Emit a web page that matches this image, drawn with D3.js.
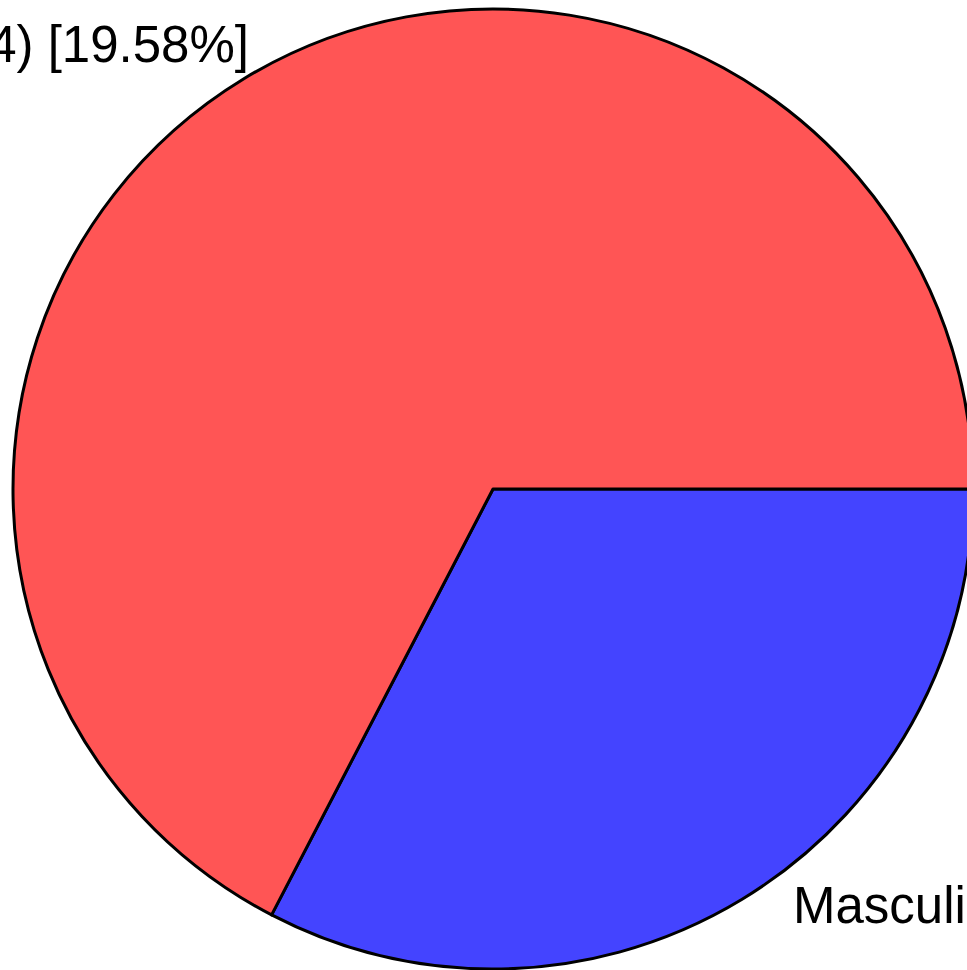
<!DOCTYPE html>
<html>
<head>
<meta charset="utf-8">
<script src="https://cdn.jsdelivr.net/npm/d3@7"></script>
<style>
  body { margin: 0; background: #fff; overflow: hidden; }
  #chart { width: 967px; height: 970px; }
  text { font-family: "Liberation Sans", Arial, sans-serif; }
</style>
</head>
<body>
<div id="chart"></div>
<script>
// slice data, in drawing order (clockwise from 3 o'clock)
const categories = ["Masculino", "Femenino"];
const shares = [32.63, 67.37];
const labels = ["Masculino", "Femenino (n=4) [19.58%]"];
const colors = ["#4444FF", "#FF5555"];

const width = 967, height = 970;

const svg = d3.select("#chart")
    .append("svg")
    .attr("width", width)
    .attr("height", height);

const cx = 493, cy = 489, r = 480;

const pie = d3.pie()
    .sort(null)
    .value(d => d)
    .startAngle(Math.PI / 2)
    .endAngle(Math.PI / 2 + 2 * Math.PI);

const arc = d3.arc().innerRadius(0).outerRadius(r);

const g = svg.append("g").attr("transform", `translate(${cx},${cy})`);

g.selectAll("path")
    .data(pie(shares))
    .enter()
    .append("path")
        .attr("d", arc)
        .attr("fill", (d, i) => colors[i])
        .attr("stroke", "#000")
        .attr("stroke-width", 3)
        .attr("stroke-linejoin", "round");

// labels (cut off by the page edges, as in the original)
svg.append("text")
    .attr("x", 793)
    .attr("y", 923)
    .attr("font-size", 51)
    .text(labels[0]);

svg.append("text")
    .attr("x", 249)
    .attr("y", 62)
    .attr("text-anchor", "end")
    .attr("font-size", 51)
    .text(labels[1]);
</script>
</body>
</html>
